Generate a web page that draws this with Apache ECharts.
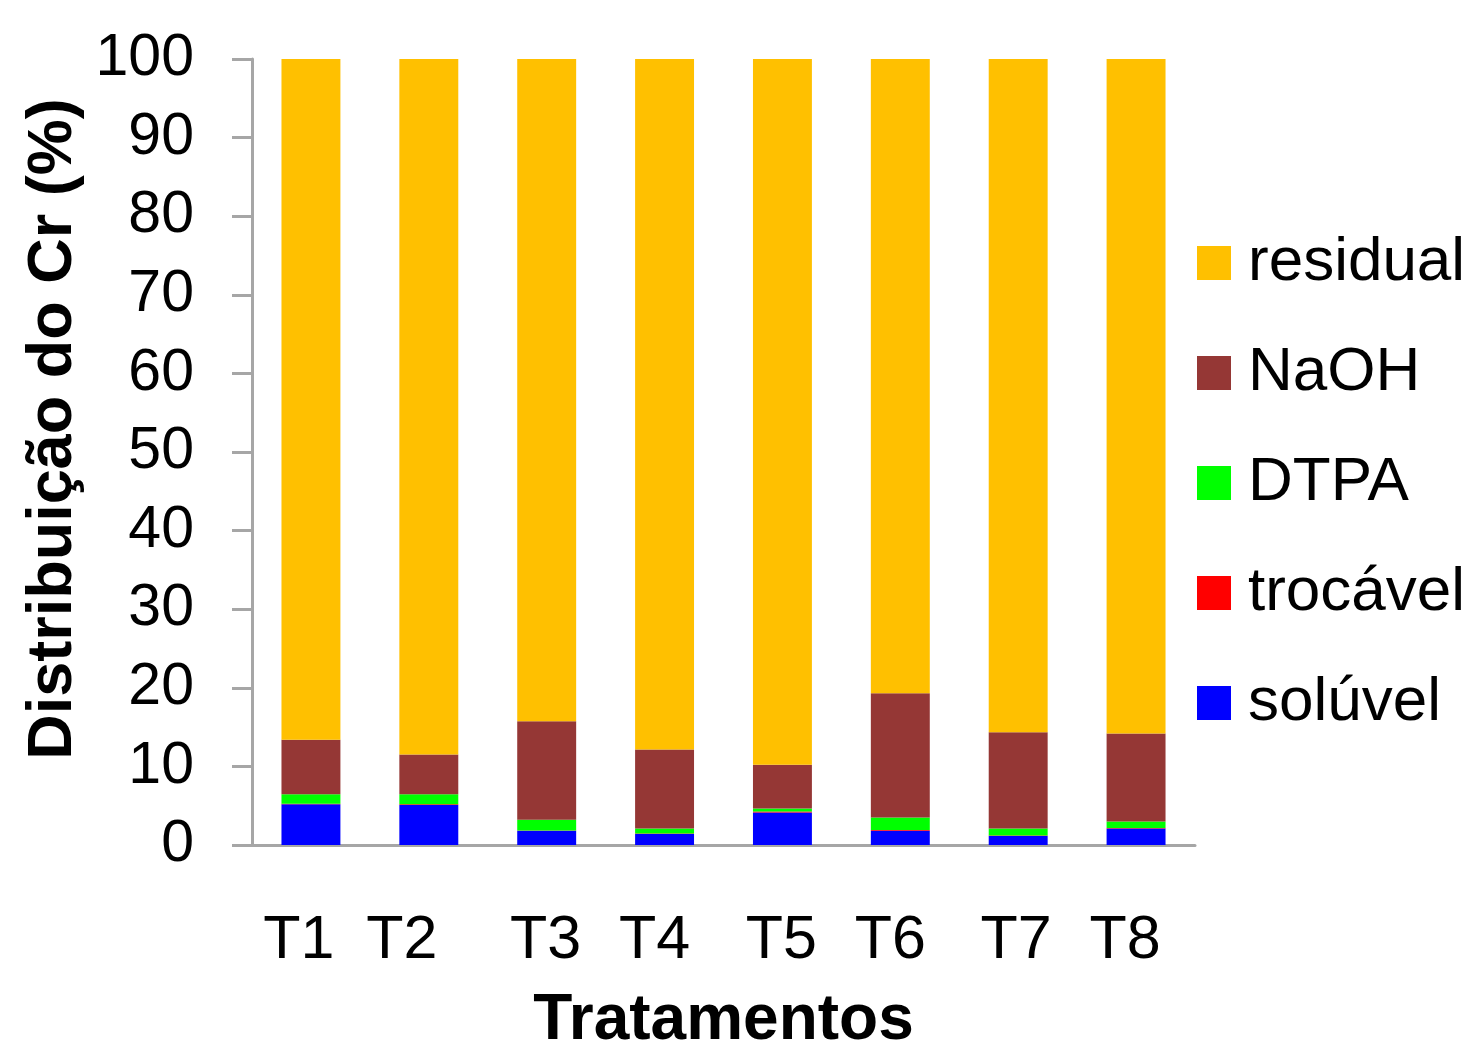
<!DOCTYPE html>
<html><head><meta charset="utf-8">
<script src="https://cdn.jsdelivr.net/npm/echarts@6/dist/echarts.min.js"></script>
<style>html,body{margin:0;padding:0;background:#fff}#c{width:1472px;height:1049px}</style>
</head><body><div id="c"></div>
<script>
const categories = ['T1','T2','T3','T4','T5','T6','T7','T8'];
const soluvel  = [5.2, 5.1, 1.8, 1.4, 4.15, 1.8, 1.15, 2.1];
const trocavel = [0.05, 0.1, 0.05, 0.05, 0.1, 0.1, 0.05, 0.05];
const dtpa     = [1.2, 1.25, 1.35, 0.65, 0.4, 1.6, 0.9, 0.85];
const naoh     = [6.95, 5.05, 12.55, 10.05, 5.55, 15.8, 12.25, 11.2];
const residual = [86.6, 88.5, 84.25, 87.85, 89.8, 80.7, 85.65, 85.8];
const yTicks = [0,10,20,30,40,50,60,70,80,90,100];

// label shift to the left (px) per category, as in the original layout
const labelShift = [12, 27, 1, 10, 1, 10, 2, 11];

const font = 'Liberation Sans, Arial, sans-serif';
const axisGray = '#a6a6a6';
const rich = {};
labelShift.forEach((d, i) => {
  rich['l' + i] = {fontFamily:font, fontSize:61, color:'#000', padding:[0, 2*d, 0, 0]};
});
const chart = echarts.init(document.getElementById('c'));
function s(name, data, color){
  return {name, type:'bar', stack:'t', data, barWidth:'50%', itemStyle:{color}, emphasis:{disabled:true}};
}
chart.setOption({
  animation:false,
  grid:{left:252, right:277, top:59, bottom:204, containLabel:false, outerBoundsMode:'none'},
  legend:{
    orient:'vertical', left:1192, top:223, icon:'rect', itemWidth:34, itemHeight:34, itemGap:40,
    data:['residual','NaOH','DTPA','trocável','solúvel'],
    textStyle:{fontFamily:font, fontSize:62, color:'#000', lineHeight:70, padding:[0,0,0,12]}
  },
  xAxis:{
    type:'category', data:categories,
    axisLine:{lineStyle:{color:axisGray, width:3}},
    axisTick:{length:20, lineStyle:{color:axisGray, width:3}},
    axisLabel:{interval:0, hideOverlap:false, fontFamily:font, fontSize:61, color:'#000', margin:66,
      formatter:(v, i) => '{l' + i + '|' + v + '}', rich},
    name:'Tratamentos', nameLocation:'middle', nameGap:144,
    nameTextStyle:{fontFamily:font, fontSize:64, fontWeight:'bold', color:'#000'}
  },
  yAxis:{
    type:'value', min:0, max:100, interval:10,
    axisLine:{show:true, lineStyle:{color:axisGray, width:3}},
    axisTick:{show:true, length:20, lineStyle:{color:axisGray, width:3}},
    splitLine:{show:false},
    axisLabel:{fontFamily:font, fontSize:59, color:'#000', margin:58,
      formatter:v=> yTicks.includes(v) ? String(v) : ''},
    name:'Distribuição do Cr (%)', nameLocation:'middle', nameGap:156,
    nameTextStyle:{fontFamily:font, fontSize:63, fontWeight:'bold', color:'#000', padding:[0,0,0,46]}
  },
  series:[
    s('solúvel', soluvel, '#0000FF'),
    s('trocável', trocavel, '#FF0000'),
    s('DTPA', dtpa, '#00FF00'),
    s('NaOH', naoh, '#953735'),
    s('residual', residual, '#FFC000')
  ]
});
</script></body></html>
